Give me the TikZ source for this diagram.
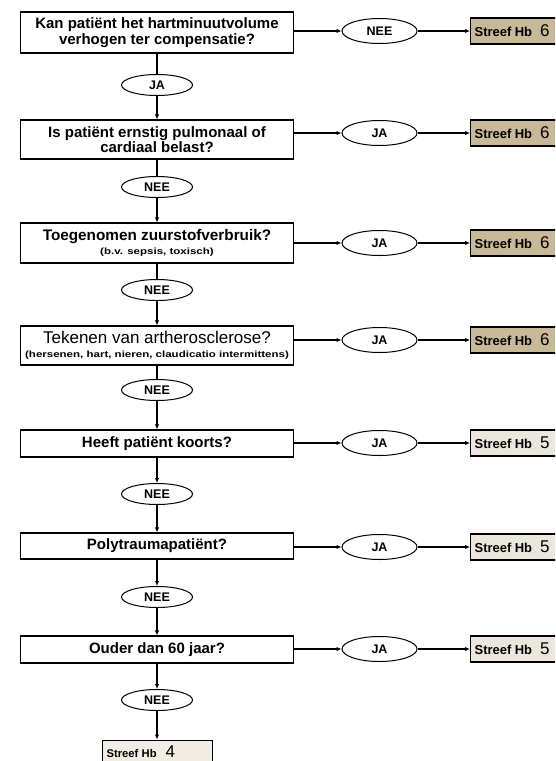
\documentclass[tikz,border=0pt]{standalone}
\usepackage{fontspec}
\setmainfont{Liberation Sans}
\newfontfamily\widefont[FakeStretch=1.28]{Liberation Sans}
\usetikzlibrary{arrows.meta,shapes.geometric}
\definecolor{tanfill}{RGB}{200,185,152}
\definecolor{lightfill}{RGB}{236,231,220}
\definecolor{paler}{RGB}{241,237,229}
\tikzset{
  qbox/.style={draw, line width=1.2pt, fill=white, minimum width=273pt, align=center, inner sep=2pt,
    font=\fontsize{15}{15.5}\selectfont\bfseries},
  yn/.style={draw, ellipse, line width=1pt, fill=white, minimum width=71pt, minimum height=21pt, inner sep=0pt,
    font=\fontsize{12.5}{13}\selectfont\bfseries},
  ynr/.style={yn, minimum width=75pt, minimum height=25pt},
  res/.style={draw, line width=1.2pt, anchor=west, minimum height=26pt, inner xsep=4pt, inner ysep=0pt,
    text width=95pt, align=left},
  plain/.style={line width=1.1pt},
  arr/.style={line width=1.1pt, -{Latex[length=5pt,width=4.5pt]}}
}
\newcommand{\hbtxt}[1]{{\fontsize{13}{13}\selectfont\bfseries Streef Hb}\hspace{8pt}{\fontsize{17}{17}\selectfont #1}}
\newcommand{\hbsmall}[1]{{\fontsize{11.2}{12}\selectfont\bfseries Streef Hb}\hspace{9pt}{\fontsize{17}{17}\selectfont #1}}
\newcommand{\subtxt}[1]{{\widefont\fontsize{9}{9.5}\selectfont\bfseries #1}}
\begin{document}
\begin{tikzpicture}[x=1pt,y=-1pt]
\useasboundingbox (0,0) rectangle (555,761);
\clip (0,0) rectangle (555,761);
\fill[white] (0,0) rectangle (555,761);

% question boxes
\node[qbox, minimum height=41pt] (q1) at (157,32.5) {Kan patiënt het hartminuutvolume\\verhogen ter compensatie?};
\node[qbox, minimum height=39pt] (q2) at (157,139.5) {Is patiënt ernstig pulmonaal of\\cardiaal belast?};
\node[qbox, minimum height=40pt] (q3) at (157,243) {{\fontsize{15.3}{15}\selectfont Toegenomen zuurstofverbruik?}\\[-1pt]\subtxt{(b.v. sepsis, toxisch)}};
\node[qbox, minimum height=39pt] (q4) at (157,345.5) {{\fontsize{17}{16}\selectfont\mdseries Tekenen van artherosclerose?}\\[-1pt]\subtxt{(hersenen, hart, nieren, claudicatio intermittens)}};
\node[qbox, minimum height=27pt] (q5) at (157,443.5) {Heeft patiënt koorts?};
\node[qbox, minimum height=26pt] (q6) at (157,546) {Polytraumapatiënt?};
\node[qbox, minimum height=27pt] (q7) at (157,649.5) {Ouder dan 60 jaar?};

% left ellipses
\node[yn] (a1) at (157,85) {JA};
\node[yn] (a2) at (157,187) {NEE};
\node[yn] (a3) at (157,290) {NEE};
\node[yn] (a4) at (157,390) {NEE};
\node[yn] (a5) at (157,494) {NEE};
\node[yn] (a6) at (157,597) {NEE};
\node[yn] (a7) at (157,700) {NEE};

% right ellipses
\node[ynr] (b1) at (379.5,31) {NEE};
\node[ynr] (b2) at (379.5,133) {JA};
\node[ynr] (b3) at (379.5,243) {JA};
\node[ynr] (b4) at (379.5,340) {JA};
\node[ynr] (b5) at (379.5,443) {JA};
\node[ynr] (b6) at (379.5,547) {JA};
\node[ynr] (b7) at (379.5,649) {JA};

% result boxes
\node[res, fill=tanfill] (r1) at (470,31) {\hbtxt{6}};
\node[res, fill=tanfill] (r2) at (470,133) {\hbtxt{6}};
\node[res, fill=tanfill] (r3) at (470,243) {\hbtxt{6}};
\node[res, fill=tanfill] (r4) at (470,340) {\hbtxt{6}};
\node[res, fill=lightfill] (r5) at (470,443) {\hbtxt{5}};
\node[res, fill=lightfill] (r6) at (470,547) {\hbtxt{5}};
\node[res, fill=lightfill] (r7) at (470,649) {\hbtxt{5}};
\node[res, fill=paler, anchor=north west, minimum height=0pt, text height=17.5pt, text depth=14.5pt, text width=102pt] (f) at (102,739.5) {\hbsmall{4}};

% vertical connectors
\draw[plain] (q1) -- (a1);
\draw[arr] (a1) -- (q2);
\draw[plain] (q2) -- (a2);
\draw[arr] (a2) -- (q3);
\draw[plain] (q3) -- (a3);
\draw[arr] (a3) -- (q4);
\draw[plain] (q4) -- (a4);
\draw[arr] (a4) -- (q5);
\draw[arr] (q5) -- (a5);
\draw[arr] (a5) -- (q6);
\draw[arr] (q6) -- (a6);
\draw[arr] (a6) -- (q7);
\draw[arr] (q7) -- (a7);
\draw[arr] (a7) -- (f.north -| a7);

% horizontal connectors
\foreach \i in {1,...,7}{
  \draw[arr] (q\i.east |- b\i) -- (b\i);
  \draw[arr] (b\i) -- (r\i);
}
\end{tikzpicture}
\end{document}
